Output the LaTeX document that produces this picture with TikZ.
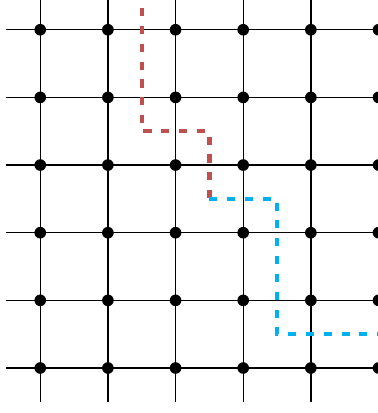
\documentclass[tikz,border=0pt]{standalone}
\usepackage{tikz}
\usetikzlibrary{positioning}
\definecolor{cutred}{RGB}{192,80,77}
\definecolor{cutblue}{RGB}{0,176,240}

\begin{document}
\begin{tikzpicture}[dot/.style={circle,fill=black,inner sep=0pt,minimum size=4.9pt},
  cut/.style={line width=1.8pt,dash pattern=on 3.4pt off 4.1pt}]
  \useasboundingbox (-0.595,-0.665) rectangle (4.99,5.44);
  \clip (-0.595,-0.665) rectangle (4.99,5.44);
  \foreach \k in {0,...,5} {
    \draw[line width=0.55pt] (-0.5,\k) -- (5.5,\k);
    \draw[line width=0.55pt] (\k,-0.5) -- (\k,5.5);
  }
  \foreach \i in {0,...,5}
    \foreach \j in {0,...,5}
      \node[dot] (v\i\j) at (\i,\j) {};
  \draw[cut,cutred] (1.5,5.32) -- (1.5,3.5) -- (2.5,3.5) -- (2.5,2.5);
  \draw[cut,cutblue] (2.5,2.5) -- (3.5,2.5) -- (3.5,0.5) -- (5.5,0.5);
\end{tikzpicture}
\end{document}
